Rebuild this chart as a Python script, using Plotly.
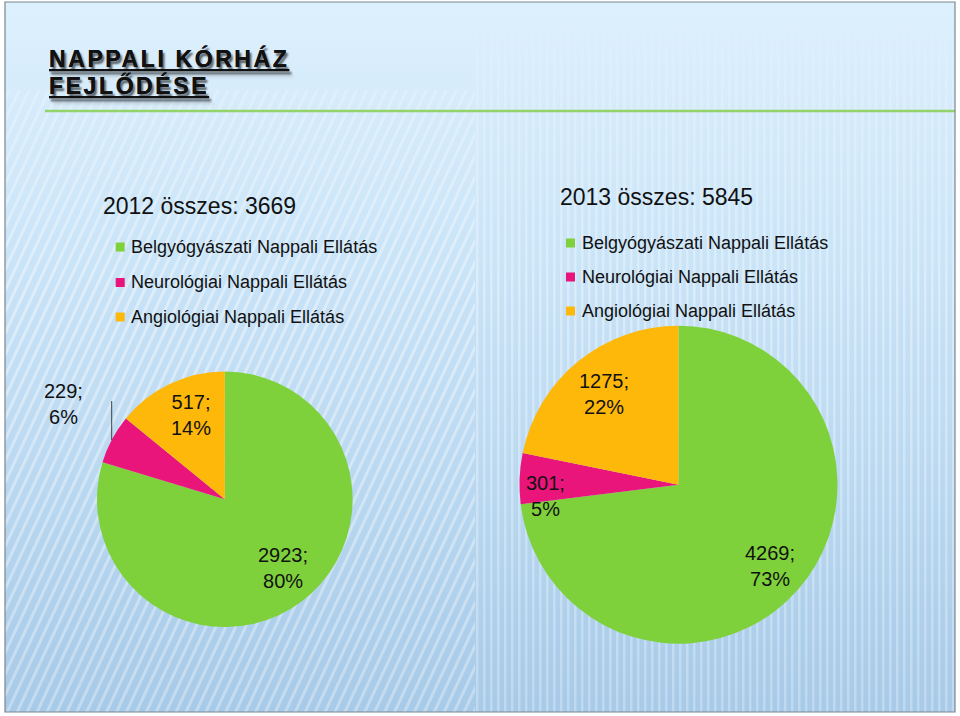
import base64
import plotly.graph_objects as go

# ---- data ----
categories = ["Belgyógyászati Nappali Ellátás", "Neurológiai Nappali Ellátás", "Angiológiai Nappali Ellátás"]
values_2012 = [2923, 229, 517]
values_2013 = [4269, 301, 1275]
years = ["2012", "2013"]
colors = ["#7FD13B", "#EA157A", "#FEB80A"]
title_lines = ["NAPPALI KÓRHÁZ", "FEJLŐDÉSE"]

W, H = 960, 716
FONT = "Arial, Liberation Sans, sans-serif"


def px(x):
    return x / W


def py(y):
    return 1 - y / H


# ---- background (gradient + stripes) as inline SVG ----
svg = f'''<svg xmlns="http://www.w3.org/2000/svg" width="{W}" height="{H}" viewBox="0 0 {W} {H}">
<defs>
<linearGradient id="g" x1="0" y1="0" x2="0" y2="1">
<stop offset="0" stop-color="#ddf0fd"/>
<stop offset="0.3" stop-color="#cde6f9"/>
<stop offset="0.65" stop-color="#bbd9f1"/>
<stop offset="1" stop-color="#a7cae8"/>
</linearGradient>
<pattern id="d" width="9" height="9" patternUnits="userSpaceOnUse" patternTransform="rotate(25)">
<rect width="3" height="9" fill="#ffffff" fill-opacity="0.4"/>
</pattern>
<pattern id="v" width="7" height="10" patternUnits="userSpaceOnUse">
<rect width="2.5" height="10" fill="#ffffff" fill-opacity="0.35"/>
</pattern>
<linearGradient id="fade" x1="0" y1="0" x2="0" y2="1">
<stop offset="0" stop-color="#fff" stop-opacity="0"/>
<stop offset="0.15" stop-color="#fff" stop-opacity="0.6"/>
<stop offset="0.4" stop-color="#fff" stop-opacity="1"/>
<stop offset="1" stop-color="#fff" stop-opacity="0.8"/>
</linearGradient>
<mask id="m"><rect width="{W}" height="{H}" fill="url(#fade)"/></mask>
</defs>
<rect x="0" y="0" width="{W}" height="{H}" fill="#ffffff"/>
<rect x="5" y="2" width="950" height="710" fill="url(#g)"/>
<g mask="url(#m)">
<rect x="5" y="90" width="470" height="622" fill="url(#d)"/>
<rect x="475" y="30" width="480" height="682" fill="url(#v)"/>
</g>
</svg>'''
bg_src = "data:image/svg+xml;base64," + base64.b64encode(svg.encode("utf-8")).decode("ascii")

fig = go.Figure()

# ---- pies ----
pie_geo = [
    dict(cx=224.8, cy=499.3, r=127.8),
    dict(cx=678.5, cy=484.7, r=159.0),
]
for vals, g in zip([values_2012, values_2013], pie_geo):
    fig.add_trace(go.Pie(
        labels=categories,
        values=vals,
        sort=False,
        direction="clockwise",
        rotation=0,
        marker=dict(colors=colors, line=dict(width=0)),
        textinfo="none",
        hoverinfo="label+value+percent",
        showlegend=False,
        domain=dict(x=[px(g["cx"] - g["r"]), px(g["cx"] + g["r"])],
                    y=[py(g["cy"] + g["r"]), py(g["cy"] - g["r"])]),
    ))

annotations = []
shapes = []

# ---- title ----
title_pos = [(47, 59), (47, 86)]
for t, (x, y) in zip(title_lines, title_pos):
    annotations.append(dict(
        x=px(x), y=py(y), xref="paper", yref="paper", xanchor="left", yanchor="middle",
        text=f"<b><u><span style='letter-spacing:2.6px'>{t}</span></u></b>",
        showarrow=False,
        font=dict(family=FONT, size=23, color="#111111", shadow="2px 3px 2px rgba(0,0,0,0.35)"),
    ))

# ---- legends (one per pie) ----
legend_geo = [
    dict(title_x=101, title_y=206, sq_x=115.7, txt_x=129, rows=[247, 282.5, 317]),
    dict(title_x=558, title_y=197, sq_x=566, txt_x=580, rows=[243, 277, 311]),
]
for year, vals, lg in zip(years, [values_2012, values_2013], legend_geo):
    annotations.append(dict(
        x=px(lg["title_x"]), y=py(lg["title_y"]), xref="paper", yref="paper",
        xanchor="left", yanchor="middle", showarrow=False,
        text=f"{year} összes: {sum(vals)}",
        font=dict(family=FONT, size=23, color="#111111"),
    ))
    for cat, col, ry in zip(categories, colors, lg["rows"]):
        shapes.append(dict(type="rect", xref="paper", yref="paper",
                           x0=px(lg["sq_x"]), x1=px(lg["sq_x"] + 9),
                           y0=py(ry + 4.5), y1=py(ry - 4.5),
                           fillcolor=col, line=dict(width=0)))
        annotations.append(dict(
            x=px(lg["txt_x"]), y=py(ry), xref="paper", yref="paper",
            xanchor="left", yanchor="middle", showarrow=False,
            text=cat, font=dict(family=FONT, size=18, color="#111111"),
        ))

# ---- data labels ----
label_pos = [
    [(283, 568), (63, 404), (191, 415)],
    [(770, 566), (545, 496), (604, 394)],
]
for vals, poss in zip([values_2012, values_2013], label_pos):
    tot = sum(vals)
    for v, (x, y) in zip(vals, poss):
        annotations.append(dict(
            x=px(x), y=py(y), xref="paper", yref="paper",
            xanchor="center", yanchor="middle", showarrow=False, align="center",
            text=f"{v};<br>{round(100 * v / tot)}%",
            font=dict(family=FONT, size=20, color="#111111"),
        ))

# leader line for small 2012 slice
shapes.append(dict(type="line", xref="paper", yref="paper",
                   x0=px(111.7), x1=px(111.7), y0=py(401), y1=py(440),
                   line=dict(color="#404040", width=1)))

# green separator line
shapes.append(dict(type="line", xref="paper", yref="paper",
                   x0=px(45), x1=px(955), y0=py(111), y1=py(111),
                   line=dict(color="#92d36a", width=2.5)))

# slide border
shapes.append(dict(type="rect", xref="paper", yref="paper",
                   x0=px(5), x1=px(955), y0=py(712), y1=py(2),
                   line=dict(color="#7a8590", width=1.2), fillcolor="rgba(0,0,0,0)"))

fig.update_layout(
    width=W, height=H,
    margin=dict(l=0, r=0, t=0, b=0),
    paper_bgcolor="#ffffff",
    images=[dict(source=bg_src, xref="paper", yref="paper", x=0, y=1, sizex=1, sizey=1,
                 xanchor="left", yanchor="top", sizing="stretch", layer="below")],
    annotations=annotations,
    shapes=shapes,
    font=dict(family=FONT),
)

fig.write_html(
    "out.html",
    config={"displayModeBar": False},
    post_script="document.body.style.margin='0';document.body.style.overflow='hidden';",
)
